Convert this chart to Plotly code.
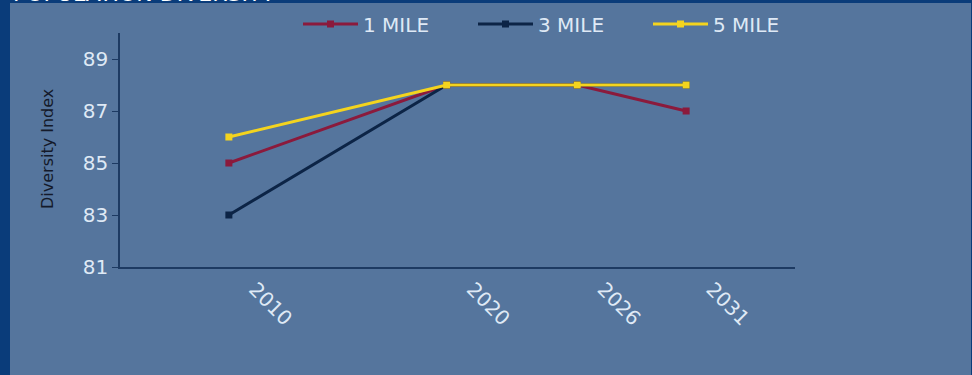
import plotly.graph_objects as go

years = [2010, 2020, 2026, 2031]
year_labels = ["2010", "2020", "2026", "2031"]
series_names = ["1 MILE", "3 MILE", "5 MILE"]
mile1 = [85, 88, 88, 87]
mile3 = [83, 88, 88, 88]
mile5 = [86, 88, 88, 88]
y_ticks = [81, 83, 85, 87, 89]
colors = ["#8b1a3c", "#0c2446", "#f4d41e"]

W, H = 972, 375
L, R, T, B = 120, 177, 33, 108
pw, ph = W - L - R, H - T - B

def px_x(p):
    return (p - L) / pw

def px_y(p):
    return (H - B - p) / ph

BG = "#55759d"
FRAME = "#0a3c7a"
TICKC = "#dfe9f5"
AXC = "#1d3a62"
FONT = "DejaVu Sans"

fig = go.Figure()
for name, vals, c in zip(series_names, [mile1, mile3, mile5], colors):
    fig.add_trace(go.Scatter(
        x=years, y=vals, name=name, mode="lines+markers",
        line=dict(color=c, width=3),
        marker=dict(color=c, size=7, symbol="square"),
    ))

fig.update_layout(
    width=W, height=H,
    margin=dict(l=L, r=R, t=T, b=B, pad=0, autoexpand=False),
    paper_bgcolor=FRAME,
    plot_bgcolor="rgba(0,0,0,0)",
    showlegend=True,
    legend=dict(
        orientation="h", x=px_x(298), xanchor="left", y=px_y(24), yanchor="middle",
        font=dict(family=FONT, size=20, color=TICKC),
        bgcolor="rgba(0,0,0,0)", entrywidth=105, entrywidthmode="pixels",
        itemwidth=55, itemclick=False,
    ),
    xaxis=dict(
        range=[2005, 2036], tickmode="array", tickvals=years, ticktext=year_labels,
        showgrid=False, zeroline=False, showline=True, linecolor=AXC, linewidth=1.5,
        ticks="", tickangle=45, ticklabelshift=26, ticklabelstandoff=1,
        tickfont=dict(family=FONT, size=20, color=TICKC), automargin=False,
    ),
    yaxis=dict(
        range=[81, 90], tickmode="array", tickvals=y_ticks,
        showgrid=False, zeroline=False, showline=True, linecolor=AXC, linewidth=1.5,
        ticks="outside", ticklen=6, tickcolor=AXC, tickwidth=1,
        tickfont=dict(family=FONT, size=20, color=TICKC), automargin=False,
    ),
    shapes=[dict(
        type="rect", xref="paper", yref="paper", layer="below",
        x0=px_x(10), x1=px_x(971), y0=px_y(H + 5), y1=px_y(3),
        fillcolor=BG, line=dict(width=0),
    )],
    annotations=[
        dict(text="Diversity Index", xref="paper", yref="paper",
             x=px_x(47), y=px_y(149), xanchor="center", yanchor="middle",
             textangle=-90, showarrow=False,
             font=dict(family=FONT, size=16, color="#141a2a")),
        dict(text="POPULATION DIVERSITY", xref="paper", yref="paper",
             x=px_x(11), y=px_y(4), xanchor="left", yanchor="bottom",
             showarrow=False, yshift=-4,
             font=dict(family=FONT, size=22, color="#ffffff")),
    ],
)

fig.write_html("out.html")
